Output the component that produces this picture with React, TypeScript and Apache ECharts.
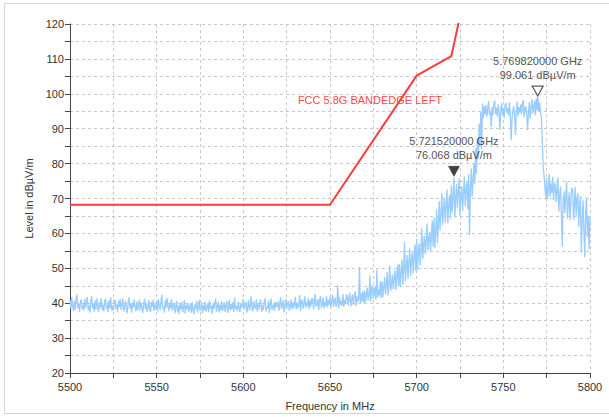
import React, { useEffect, useRef } from "react";
import * as echarts from "echarts";

// Measured trace, 0.5 MHz steps starting at 5500 MHz (dBµV/m); one row = 10 MHz
const traceStartMHz = 5500;
const traceStepMHz = 0.5;
const traceLevels = [
  40.9, 38.4, 41.6, 39.2, 37.8, 40.7, 38.1, 41.3, 42.5, 38.6, 39.8, 37.5, 40.4, 41.1, 38.3, 39.5, 37.9, 41.2, 38.7, 40.1,
  41.8, 38.0, 39.4, 37.3, 40.6, 42.0, 38.5, 39.9, 37.6, 40.8, 38.2, 41.4, 39.0, 37.4, 40.3, 38.8, 41.5, 38.1, 39.6, 37.7,
  40.5, 41.3, 38.4, 39.7, 37.5, 40.9, 38.6, 41.6, 38.0, 39.3, 37.8, 40.2, 41.0, 38.3, 39.6, 37.4, 40.7, 38.9, 41.2, 38.1,
  39.5, 41.4, 37.6, 39.0, 40.6, 38.2, 37.1, 40.3, 41.7, 38.5, 39.8, 37.3, 40.1, 38.7, 41.1, 39.2, 37.7, 40.5, 38.0, 39.4,
  41.0, 37.9, 40.2, 38.6, 37.2, 39.7, 41.3, 38.3, 40.0, 37.5, 39.1, 40.8, 38.1, 37.4, 40.4, 38.9, 41.0, 37.8, 39.6, 38.2,
  40.6, 37.6, 41.2, 39.3, 38.0, 40.5, 42.4, 38.4, 39.0, 37.3, 40.9, 38.7, 41.5, 39.1, 37.7, 40.2, 38.5, 41.1, 37.9, 39.4,
  40.2, 37.1, 38.9, 40.6, 37.6, 39.3, 36.9, 39.8, 38.2, 40.4, 37.4, 38.8, 40.9, 37.0, 39.5, 38.3, 40.1, 37.5, 38.6, 39.9,
  37.2, 40.3, 38.0, 36.8, 39.6, 38.4, 40.7, 37.3, 39.1, 41.0, 37.7, 38.9, 40.2, 37.1, 39.4, 38.0, 40.5, 37.6, 38.8, 40.0,
  37.4, 40.8, 38.5, 39.2, 37.0, 40.1, 38.3, 39.7, 41.3, 37.6, 38.9, 40.4, 37.3, 39.5, 38.1, 40.6, 37.8, 39.0, 40.2, 37.5,
  39.3, 40.7, 37.2, 38.6, 41.0, 37.9, 39.8, 38.2, 40.3, 37.5, 41.6, 38.4, 39.1, 37.7, 40.5, 38.8, 37.4, 40.0, 38.6, 39.6,
  41.2, 38.2, 39.5, 40.4, 37.3, 38.9, 40.9, 37.9, 39.3, 42.0, 38.1, 37.7, 40.6, 39.0, 38.4, 41.1, 37.6, 39.7, 38.3, 40.2,
  41.1, 37.5, 39.4, 38.0, 40.2, 41.4, 37.6, 39.0, 38.5, 40.8, 37.2, 39.6, 41.3, 38.1, 38.7, 40.0, 37.8, 40.5, 38.9, 39.3,
  40.5, 37.8, 39.7, 41.7, 38.3, 39.4, 40.9, 37.4, 38.8, 41.2, 38.5, 39.9, 40.6, 37.9, 39.2, 41.0, 38.2, 40.3, 38.6, 39.5,
  41.8, 38.2, 40.1, 38.6, 39.4, 42.3, 37.8, 40.6, 41.0, 38.4, 39.8, 42.0, 38.7, 40.2, 39.1, 41.5, 38.3, 40.8, 39.0, 41.3,
  41.5, 38.3, 40.4, 42.6, 38.9, 39.7, 41.2, 38.0, 40.6, 42.1, 38.6, 39.5, 41.7, 38.4, 40.3, 39.2, 42.0, 38.8, 40.9, 39.6,
  41.9, 38.7, 40.5, 42.4, 39.0, 40.8, 41.6, 38.9, 40.2, 45.1, 38.5, 41.8, 39.6, 40.7, 39.2, 42.6, 38.9, 41.0, 39.7, 42.3,
  42.2, 39.3, 41.4, 43.0, 39.0, 40.9, 42.5, 39.6, 41.7, 43.4, 39.2, 42.0, 40.4, 41.1, 50.4, 39.8, 42.8, 40.5, 43.5, 40.1,
  43.6, 40.2, 42.4, 44.5, 40.8, 42.0, 47.9, 40.5, 43.3, 45.2, 41.3, 42.7, 44.8, 41.0, 49.6, 41.6, 43.9, 42.2, 46.3, 41.4,
  46.3, 41.8, 44.6, 47.5, 42.6, 45.1, 48.9, 42.2, 46.0, 50.8, 43.5, 45.4, 48.2, 44.1, 47.0, 49.5, 43.8, 47.7, 51.0, 44.9,
  51.3, 44.6, 48.8, 52.5, 45.3, 49.7, 57.6, 46.2, 50.4, 53.8, 47.0, 51.6, 55.6, 47.8, 52.2, 54.9, 48.6, 53.5, 56.8, 49.2,
  58.4, 49.5, 54.7, 57.2, 50.8, 55.3, 61.5, 52.6, 56.9, 59.3, 54.0, 57.8, 62.8, 55.1, 58.6, 60.4, 54.6, 59.5, 63.7, 56.2,
  64.5, 55.8, 60.7, 66.9, 57.2, 62.3, 69.3, 61.0, 65.4, 71.5, 62.4, 66.8, 70.2, 63.1, 67.5, 72.6, 62.9, 68.4, 71.0, 64.2,
  73.8, 66.0, 70.4, 76.1, 64.5, 69.7, 74.2, 67.3, 71.9, 75.8, 65.1, 70.6, 73.5, 66.4, 71.2, 76.4, 67.8, 72.3, 74.9, 66.9,
  76.9, 59.5, 72.8, 78.6, 70.5, 75.2, 80.1, 74.0, 84.3, 77.2, 86.9, 81.5, 91.5, 85.0, 94.8, 84.2, 97.2, 93.0, 96.4, 94.1,
  96.8, 93.4, 95.6, 97.9, 94.0, 95.1, 90.5, 96.2, 93.8, 97.1, 98.1, 94.2, 96.0, 93.5, 97.0, 94.8, 89.6, 95.5, 97.3, 93.9,
  95.9, 93.1, 96.7, 97.4, 94.5, 95.8, 93.7, 97.6, 94.1, 86.8, 92.6, 95.3, 96.5, 93.9, 88.2, 95.0, 97.8, 93.6, 96.1, 94.6,
  96.9, 94.1, 97.2, 98.2, 93.3, 95.7, 96.4, 94.0, 89.6, 94.7, 97.6, 93.0, 95.9, 98.5, 94.4, 96.3, 97.9, 93.8, 98.8, 95.2,
  99.1, 95.0, 97.4, 94.6, 92.5, 86.0, 79.0, 76.5, 73.2, 70.2, 75.8, 69.8, 72.9, 77.1, 70.5, 74.3, 71.6, 76.2, 69.4, 73.8,
  74.6, 68.9, 72.1, 76.0, 66.2, 70.7, 73.4, 65.5, 56.2, 69.0, 72.0, 65.8, 70.3, 74.9, 64.3, 68.7, 71.8, 63.9, 69.9, 73.1,
  72.6, 64.0, 68.5, 73.3, 65.1, 69.8, 71.5, 62.0, 67.2, 70.8, 54.5, 63.6, 69.5, 60.8, 53.2, 66.0, 70.4, 58.9, 64.7, 55.3,
  65.0,
];

// FCC 5.8G band-edge limit line
const limitFreqs = [5500, 5650, 5700, 5720, 5725];
const limitLevels = [68.2, 68.2, 105.2, 110.8, 122.2];
const limitName = "FCC 5.8G BANDEDGE LEFT";

// Markers
const markerFreqs = [5721.52, 5769.82];
const markerLevels = [76.068, 99.061];
const markerFilled = [true, false];

// Axes
const xMin = 5500, xMax = 5800, xStep = 25, xLabelStep = 50;
const yMin = 20, yMax = 120, yStep = 5, yLabelStep = 10;
const xTitle = "Frequency in MHz";
const yTitle = "Level in dBµV/m";

const FONT = "'Liberation Sans', Arial, sans-serif";
const DOWN_TRI = "path://M0,0 L10,0 L5,10 Z";

export default function App() {
  const ref = useRef<HTMLDivElement>(null);
  useEffect(() => {
    const chart = echarts.init(ref.current!, null, { renderer: "svg" });
    const traceData = traceLevels.map((v, i) => [traceStartMHz + i * traceStepMHz, v]);
    const limitData = limitFreqs.map((f, i) => [f, limitLevels[i]]);
    const markerData = markerFreqs.map((f, i) => ({
      value: [f, markerLevels[i]],
      itemStyle: markerFilled[i]
        ? { color: "#111", borderColor: "#111", borderWidth: 0.5 }
        : { color: "#fff", borderColor: "#333", borderWidth: 1.2 },
    }));
    const axisCommon = {
      axisLine: { show: true, lineStyle: { color: "#444", width: 1 } },
      axisTick: { show: true, length: 5, lineStyle: { color: "#444" } },
      splitLine: { show: true, lineStyle: { color: "#c8c8c8", type: [3, 3], width: 1 } },
      nameTextStyle: { color: "#333", fontSize: 11, fontFamily: FONT },
    };
    chart.setOption({
      animation: false,
      backgroundColor: "#fff",
      textStyle: { fontFamily: FONT },
      grid: { left: 70, right: 19, top: 24, bottom: 44, containLabel: false },
      xAxis: {
        type: "value",
        min: xMin,
        max: xMax,
        interval: xStep,
        name: xTitle,
        nameLocation: "middle",
        nameGap: 27,
        ...axisCommon,
        axisLabel: {
          color: "#333",
          fontSize: 11,
          fontFamily: FONT,
          margin: 8,
          formatter: (v: number) => (v % xLabelStep === 0 ? String(v) : ""),
        },
      },
      yAxis: {
        type: "value",
        min: yMin,
        max: yMax,
        interval: yStep,
        name: yTitle,
        nameLocation: "middle",
        nameGap: 33,
        ...axisCommon,
        axisLabel: {
          color: "#333",
          fontSize: 11,
          fontFamily: FONT,
          margin: 6,
          formatter: (v: number) => (v % yLabelStep === 0 ? String(v) : ""),
        },
      },
      graphic: [
        {
          type: "rect",
          shape: { x: 4.5, y: 3.5, width: 640, height: 410 },
          style: { fill: "none", stroke: "#d4d4d4", lineWidth: 1 },
          silent: true,
          z: -10,
        },
        {
          type: "text",
          x: 370,
          y: 100,
          style: {
            text: limitName,
            fill: "#ff4a4a",
            fontSize: 11,
            fontFamily: FONT,
            align: "center",
            verticalAlign: "middle",
          },
          z: 50,
        },
      ],
      series: [
        {
          type: "line",
          data: traceData,
          symbol: "none",
          lineStyle: { color: "#99ccff", width: 1.3 },
          clip: true,
          z: 2,
        },
        {
          type: "line",
          data: limitData,
          symbol: "none",
          lineStyle: { color: "#ff3b3b", width: 2 },
          clip: true,
          z: 3,
        },
        {
          type: "scatter",
          data: markerData,
          symbol: DOWN_TRI,
          symbolSize: [11, 10],
          symbolOffset: [0, -6],
          z: 5,
          label: {
            show: true,
            position: "top",
            distance: 4,
            color: "#222",
            fontSize: 11,
            fontFamily: FONT,
            lineHeight: 14,
            align: "center",
            formatter: (p: any) =>
              `${(p.value[0] / 1000).toFixed(9)} GHz\n${p.value[1].toFixed(3)} dBµV/m`,
          },
        },
      ],
    });
    return () => chart.dispose();
  }, []);
  return (
    <div
      ref={ref}
      style={{ position: "fixed", left: 0, top: 0, width: 609, height: 417 }}
    />
  );
}
